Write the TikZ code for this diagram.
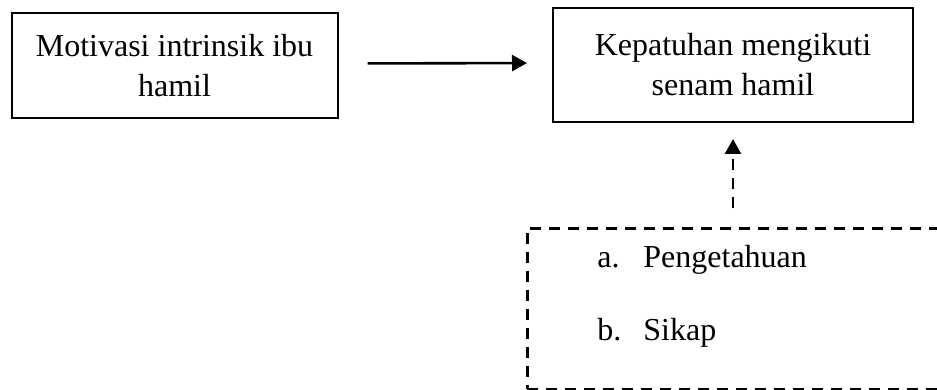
\documentclass[tikz,border=0pt]{standalone}
\usepackage{fontspec}
\setmainfont{Liberation Serif}
\usetikzlibrary{arrows.meta,positioning,calc}

\begin{document}
\begin{tikzpicture}[x=0.5pt, y=-0.5pt,
    box/.style={rectangle, draw, line width=1pt, align=center, inner sep=0pt, font=\fontsize{16}{20}\selectfont},
    item/.style={anchor=base west, inner sep=0pt, font=\fontsize{16}{20}\selectfont},
    dashline/.style={dash pattern=on 5.5pt off 4pt, line width=1.3pt},
    arr/.style={-{Triangle[length=7.5pt,width=8pt]}, line width=1.3pt}
]
    \useasboundingbox (0,0) rectangle (937,390);
    \clip (0,0) rectangle (937,390);
    % Boxes
    \node[box, minimum width=163pt, minimum height=52.5pt] (motivasi) at (174.5,65.5) {Motivasi intrinsik ibu\\hamil};
    \node[box, minimum width=180pt, minimum height=57pt] (kepatuhan) at (733,65) {Kepatuhan mengikuti\\senam hamil};
    \node[draw, dashline, rectangle, minimum width=215pt, minimum height=80.5pt, anchor=north west] (faktor) at (526,227) {};
    \foreach \y/\lbl/\txt in {267/a./Pengetahuan, 340/b./Sikap} {
        \node[item] (lbl\y) at (597,\y) {\lbl};
        \node[item] (txt\y) at (643,\y) {\txt};
    }
    % Arrows
    \draw[arr, shorten <=14.5pt, shorten >=12.5pt] ([yshift=1pt]motivasi.east) -- ([yshift=1pt]kepatuhan.west);
    \draw[arr, dashline, shorten <=9.5pt, shorten >=8pt] (faktor.north -| kepatuhan.south) -- (kepatuhan.south);
\end{tikzpicture}
\end{document}
